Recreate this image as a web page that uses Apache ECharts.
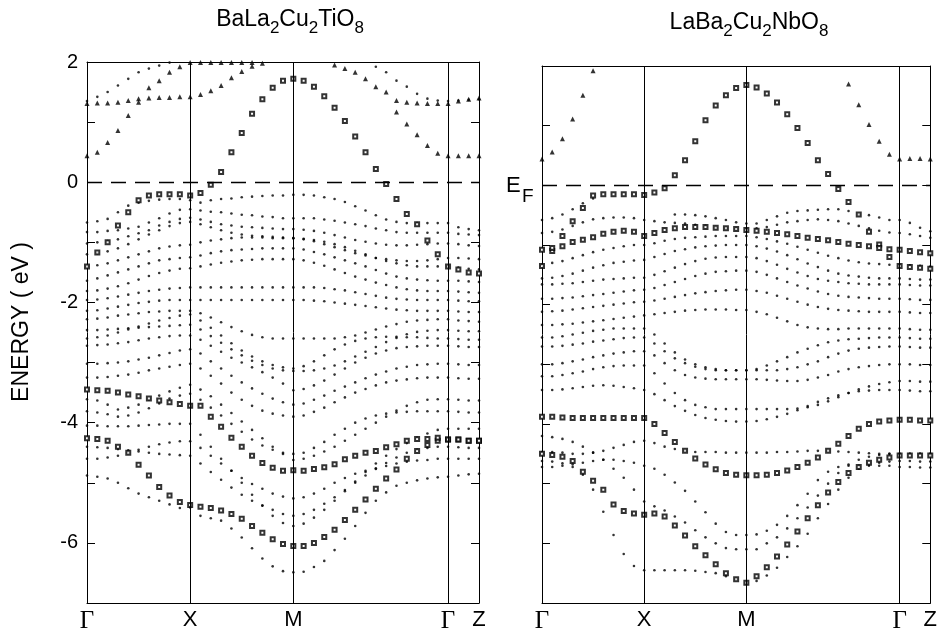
<!DOCTYPE html>
<html><head><meta charset="utf-8">
<script src="https://cdn.jsdelivr.net/npm/echarts@6/dist/echarts.min.js"></script>
<style>html,body{margin:0;padding:0;background:#fff}#c{width:940px;height:634px}</style>
</head><body><div id="c"></div>
<script>
// k-path: index 0..38 ; Γ=0, X=10, M=20, Γ=35, Z=38
const kPos = [0, 10, 20, 35, 38];
const kNames = ['Γ', 'X', 'M', 'Γ', 'Z'];
const yLabelTicks = [2, 0, -2, -4, -6];

// ---------- BaLa2Cu2TiO8 (left) ----------
const L_tri = [
  [0.44,0.5,0.66,0.86,1.11,1.33,1.57,1.69,1.83,1.92,1.99, 1.99,1.99,1.99,1.99,1.99,1.99,null,null,null,null, null,null,null,1.95,1.89,1.83,1.72,1.59,1.5,1.17,0.97,0.79,0.61,0.48,0.44, 0.44,0.44,0.44],
  [1.31,1.32,1.32,1.33,1.36,1.39,1.4,1.41,1.41,1.42,1.42, 1.46,1.52,1.61,1.74,1.84,1.93,1.98,null,null,null, null,null,null,null,null,null,null,null,null,1.36,1.33,1.32,1.31,1.31,1.31, 1.35,1.38,1.4]
];
const L_sq = [
  [-1.4,-1.17,-1.0,-0.72,-0.5,-0.3,-0.22,-0.2,-0.2,-0.2,-0.22, -0.18,-0.04,0.17,0.5,0.82,1.14,1.38,1.57,1.69,1.72, 1.69,1.59,1.43,1.24,1.02,0.76,0.5,0.22,-0.03,-0.28,-0.53,-0.7,-0.97,-1.2,-1.4, -1.45,-1.5,-1.52],
  [-4.26,-4.27,-4.3,-4.4,-4.5,-4.7,-4.88,-5.07,-5.21,-5.32,-5.37, -5.4,-5.42,-5.46,-5.52,-5.6,-5.72,-5.83,-5.94,-6.02,-6.05, -6.05,-6.0,-5.9,-5.78,-5.62,-5.45,-5.28,-5.1,-4.93,-4.78,-4.6,-4.47,-4.37,-4.3,-4.28, -4.28,-4.3,-4.3],
  [-3.45,-3.46,-3.47,-3.5,-3.53,-3.56,-3.6,-3.63,-3.66,-3.69,-3.72, -3.72,-3.9,-4.07,-4.25,-4.4,-4.55,-4.67,-4.75,-4.8,-4.79, -4.8,-4.77,-4.74,-4.69,-4.61,-4.55,-4.5,-4.47,-4.41,-4.36,-4.3,-4.27,-4.27,-4.25,-4.28, -4.28,-4.3,-4.3]
];
const L_dot = [
  [1.35,1.42,1.5,1.61,1.72,1.83,1.89,1.94,1.99,null,null, null,null,null,null,null,null,null,null,null,null, null,null,null,null,null,null,null,1.92,1.83,1.69,1.59,1.47,1.39,1.36,1.35, 1.36,1.37,1.38],
  [-0.67,-0.65,-0.61,-0.5,-0.39,-0.34,-0.31,-0.29,-0.28,-0.28,-0.3, -0.34,-0.3,-0.28,-0.27,-0.25,-0.24,-0.23,-0.22,-0.22,-0.21, -0.21,-0.22,-0.25,-0.28,-0.33,-0.4,-0.47,-0.55,-0.62,-0.66,-0.68,-0.68,-0.68,-0.68,-0.68, -0.75,-0.78,-0.8],
  [-0.83,-0.83,-0.81,-0.8,-0.77,-0.74,-0.67,-0.6,-0.52,-0.46,-0.45, -0.47,-0.49,-0.5,-0.52,-0.54,-0.55,-0.57,-0.58,-0.6,-0.6, -0.6,-0.6,-0.62,-0.64,-0.67,-0.7,-0.73,-0.77,-0.8,-0.83,-0.84,-0.84,-0.84,-0.84,-0.84, -0.86,-0.87,-0.88],
  [-1.02,-1.0,-0.98,-0.95,-0.9,-0.85,-0.8,-0.72,-0.66,-0.61,-0.59, -0.62,-0.66,-0.7,-0.72,-0.74,-0.75,-0.76,-0.77,-0.78,-0.78, -0.79,-0.81,-0.84,-0.88,-0.92,-0.96,-0.99,-1.02,-1.04,-1.05,-1.05,-1.04,-1.03,-1.02,-1.02, -1.03,-1.05,-1.06],
  [-1.2,-1.18,-1.15,-1.1,-1.03,-0.95,-0.87,-0.8,-0.73,-0.68,-0.66, -0.7,-0.75,-0.8,-0.84,-0.87,-0.89,-0.9,-0.91,-0.92,-0.93, -0.95,-0.98,-1.03,-1.08,-1.13,-1.18,-1.22,-1.26,-1.28,-1.3,-1.31,-1.31,-1.3,-1.28,-1.26, -1.26,-1.27,-1.28],
  [-1.4,-1.38,-1.35,-1.3,-1.25,-1.2,-1.15,-1.1,-1.07,-1.05,-1.04, -1.0,-0.97,-0.95,-0.93,-0.92,-0.92,-0.92,-0.93,-0.93,-0.93, -0.94,-0.96,-0.99,-1.03,-1.08,-1.14,-1.2,-1.26,-1.31,-1.35,-1.38,-1.4,-1.4,-1.4,-1.4, -1.42,-1.44,-1.45],
  [-1.64,-1.6,-1.55,-1.5,-1.45,-1.4,-1.35,-1.3,-1.28,-1.26,-1.25, -1.22,-1.18,-1.15,-1.13,-1.12,-1.11,-1.1,-1.1,-1.1,-1.1, -1.12,-1.16,-1.2,-1.25,-1.3,-1.35,-1.4,-1.46,-1.52,-1.57,-1.6,-1.62,-1.63,-1.64,-1.64, -1.64,-1.65,-1.66],
  [-1.81,-1.8,-1.77,-1.73,-1.68,-1.62,-1.56,-1.51,-1.47,-1.44,-1.43, -1.4,-1.37,-1.34,-1.32,-1.3,-1.29,-1.28,-1.28,-1.28,-1.28, -1.3,-1.34,-1.39,-1.45,-1.51,-1.57,-1.62,-1.67,-1.71,-1.75,-1.78,-1.8,-1.81,-1.81,-1.81, -1.82,-1.83,-1.84],
  [-1.96,-1.95,-1.93,-1.9,-1.87,-1.84,-1.81,-1.79,-1.77,-1.76,-1.75, -1.75,-1.75,-1.75,-1.75,-1.75,-1.75,-1.75,-1.75,-1.75,-1.75, -1.75,-1.75,-1.76,-1.78,-1.8,-1.83,-1.86,-1.89,-1.92,-1.94,-1.95,-1.96,-1.96,-1.96,-1.96, -1.97,-1.98,-1.98],
  [-2.14,-2.13,-2.1,-2.07,-2.04,-2.01,-1.99,-1.97,-1.96,-1.96,-1.96, -1.96,-1.96,-1.96,-1.96,-1.96,-1.96,-1.96,-1.96,-1.96,-1.96, -1.96,-1.97,-1.98,-2.0,-2.02,-2.04,-2.06,-2.08,-2.1,-2.12,-2.13,-2.14,-2.14,-2.14,-2.14, -2.15,-2.16,-2.16],
  [-2.28,-2.27,-2.25,-2.22,-2.2,-2.18,-2.16,-2.15,-2.14,-2.14,-2.14, -2.18,-2.25,-2.33,-2.41,-2.48,-2.54,-2.58,-2.6,-2.6,-2.6, -2.6,-2.6,-2.6,-2.6,-2.58,-2.55,-2.5,-2.45,-2.4,-2.36,-2.32,-2.3,-2.29,-2.28,-2.28, -2.3,-2.31,-2.32],
  [-2.46,-2.46,-2.45,-2.44,-2.43,-2.42,-2.41,-2.4,-2.39,-2.38,-2.37, -2.45,-2.56,-2.67,-2.78,-2.88,-2.97,-3.04,-3.1,-3.13,-3.14, -3.14,-3.13,-3.1,-3.05,-2.98,-2.9,-2.82,-2.74,-2.66,-2.59,-2.53,-2.49,-2.47,-2.46,-2.46, -2.47,-2.48,-2.48],
  [-2.6,-2.58,-2.55,-2.5,-2.45,-2.4,-2.35,-2.3,-2.26,-2.22,-2.2, -2.3,-2.42,-2.55,-2.68,-2.8,-2.9,-2.98,-3.04,-3.08,-3.1, -3.06,-2.98,-2.88,-2.78,-2.7,-2.64,-2.6,-2.58,-2.57,-2.57,-2.58,-2.58,-2.59,-2.6,-2.6, -2.61,-2.62,-2.62],
  [-2.72,-2.71,-2.7,-2.68,-2.66,-2.63,-2.6,-2.58,-2.56,-2.55,-2.55, -2.62,-2.72,-2.82,-2.92,-3.0,-3.08,-3.16,-3.25,-3.35,-3.46, -3.44,-3.38,-3.3,-3.2,-3.1,-3.0,-2.92,-2.85,-2.8,-2.76,-2.74,-2.73,-2.72,-2.72,-2.72, -2.73,-2.74,-2.74],
  [-3.02,-3.02,-3.01,-3.0,-2.98,-2.95,-2.92,-2.88,-2.84,-2.8,-2.78, -2.85,-2.98,-3.1,-3.22,-3.33,-3.43,-3.52,-3.6,-3.66,-3.7, -3.68,-3.62,-3.55,-3.47,-3.4,-3.33,-3.26,-3.2,-3.15,-3.1,-3.07,-3.04,-3.03,-3.02,-3.02, -3.03,-3.04,-3.04],
  [-3.25,-3.25,-3.24,-3.22,-3.2,-3.17,-3.13,-3.1,-3.07,-3.04,-3.02, -3.1,-3.22,-3.35,-3.5,-3.62,-3.72,-3.8,-3.85,-3.88,-3.9, -3.88,-3.82,-3.75,-3.66,-3.58,-3.5,-3.44,-3.38,-3.33,-3.3,-3.28,-3.26,-3.25,-3.25,-3.25, -3.26,-3.27,-3.27],
  [-3.61,-3.63,-3.7,-3.78,-3.75,-3.7,-3.62,-3.55,-3.48,-3.42,-3.37, -3.45,-3.56,-3.7,-3.84,-3.98,-4.12,-4.26,-4.4,-4.52,-4.62, -4.6,-4.55,-4.48,-4.4,-4.3,-4.2,-4.1,-4.0,-3.9,-3.8,-3.72,-3.66,-3.62,-3.61,-3.61, -3.62,-3.63,-3.63],
  [-3.81,-3.83,-3.86,-3.9,-3.88,-3.83,-3.76,-3.68,-3.6,-3.55,-3.52, -3.62,-3.75,-3.88,-4.02,-4.15,-4.28,-4.38,-4.45,-4.5,-4.52, -4.5,-4.42,-4.32,-4.2,-4.1,-4.0,-3.93,-3.88,-3.85,-3.83,-3.82,-3.81,-3.81,-3.81,-3.81, -3.82,-3.83,-3.83],
  [-4.05,-4.05,-4.06,-4.06,-4.06,-4.05,-4.04,-4.03,-4.02,-4.02,-4.02, -4.2,-4.4,-4.6,-4.8,-5.0,-5.2,-5.38,-5.55,-5.67,-5.72, -5.68,-5.58,-5.45,-5.3,-5.14,-4.98,-4.82,-4.68,-4.55,-4.44,-4.34,-4.25,-4.18,-4.12,-4.1, -4.1,-4.1,-4.1],
  [-4.4,-4.41,-4.42,-4.44,-4.46,-4.48,-4.5,-4.52,-4.53,-4.54,-4.55, -4.68,-4.82,-4.95,-5.08,-5.2,-5.3,-5.38,-5.45,-5.52,-5.55, -5.52,-5.45,-5.35,-5.24,-5.12,-5.0,-4.88,-4.77,-4.67,-4.58,-4.5,-4.45,-4.42,-4.4,-4.4, -4.41,-4.42,-4.42],
  [-4.6,-4.6,-4.58,-4.55,-4.5,-4.45,-4.4,-4.36,-4.33,-4.31,-4.31, -4.42,-4.55,-4.68,-4.8,-4.92,-5.02,-5.1,-5.18,-5.23,-5.26, -5.24,-5.18,-5.1,-5.0,-4.92,-4.85,-4.8,-4.76,-4.72,-4.68,-4.65,-4.63,-4.62,-4.6,-4.6, -4.6,-4.6,-4.6],
  [-4.88,-4.9,-4.93,-5.0,-5.09,-5.18,-5.24,-5.3,-5.36,-5.42,-5.41, -5.55,-5.59,-5.63,-5.76,-5.91,-6.09,-6.26,-6.39,-6.47,-6.49, -6.48,-6.4,-6.3,-6.12,-5.93,-5.72,-5.5,-5.3,-5.16,-5.05,-5.0,-4.96,-4.93,-4.91,-4.9, -4.88,-4.86,-4.85]
];

// ---------- LaBa2Cu2NbO8 (right) ----------
const R_tri = [
  [0.44,0.56,0.78,1.11,1.51,1.92,null,null,null,null,null, null,null,null,null,null,null,null,null,null,null, null,null,null,null,null,null,null,null,null,1.7,1.35,1.02,0.74,0.52,0.44, 0.45,0.45,0.44]
];
const R_sq = [
  [-1.35,-1.1,-0.85,-0.6,-0.38,-0.17,-0.15,-0.15,-0.15,-0.15,-0.16, -0.12,-0.05,0.17,0.42,0.74,1.09,1.34,1.51,1.63,1.68, 1.64,1.54,1.39,1.19,0.96,0.71,0.42,0.19,-0.06,-0.28,-0.49,-0.78,-0.99,-1.2,-1.35, -1.37,-1.38,-1.4],
  [-1.08,-1.05,-1.02,-0.95,-0.91,-0.87,-0.81,-0.78,-0.76,-0.78,-0.85, -0.8,-0.75,-0.72,-0.7,-0.7,-0.7,-0.71,-0.72,-0.73,-0.75, -0.76,-0.78,-0.8,-0.82,-0.85,-0.88,-0.9,-0.92,-0.95,-0.98,-1.0,-1.02,-1.05,-1.07,-1.08, -1.1,-1.12,-1.14],
  [-3.88,-3.88,-3.89,-3.9,-3.9,-3.9,-3.9,-3.9,-3.9,-3.9,-3.9, -4.0,-4.15,-4.3,-4.45,-4.58,-4.68,-4.76,-4.82,-4.85,-4.86, -4.86,-4.85,-4.82,-4.78,-4.72,-4.65,-4.56,-4.45,-4.33,-4.2,-4.08,-4.0,-3.96,-3.94,-3.93, -3.93,-3.94,-3.94],
  [-4.5,-4.52,-4.55,-4.62,-4.8,-4.95,-5.1,-5.35,-5.46,-5.5,-5.52, -5.5,-5.55,-5.7,-5.87,-6.05,-6.2,-6.35,-6.5,-6.6,-6.66, -6.55,-6.4,-6.22,-6.02,-5.8,-5.58,-5.36,-5.15,-4.97,-4.82,-4.72,-4.65,-4.6,-4.56,-4.53, -4.53,-4.53,-4.53]
];
const R_dot = [
  [-0.58,-0.55,-0.49,-0.4,-0.3,-0.22,null,null,null,null,null, null,null,-0.49,-0.49,-0.5,-0.52,-0.55,-0.58,-0.62,-0.64, -0.64,-0.58,-0.52,-0.46,-0.43,-0.42,-0.41,-0.4,-0.4,-0.43,-0.49,-0.5,-0.54,-0.58,-0.58, -0.63,-0.71,-0.77],
  [-0.8,-0.78,-0.74,-0.68,-0.62,-0.57,-0.55,-0.54,-0.54,-0.55,-0.58, -0.6,-0.62,-0.63,-0.64,-0.66,-0.68,-0.7,-0.72,-0.73,-0.73, -0.72,-0.7,-0.66,-0.62,-0.6,-0.58,-0.57,-0.58,-0.6,-0.64,-0.68,-0.72,-0.76,-0.79,-0.8, -0.82,-0.85,-0.88],
  [-1.33,-1.3,-1.27,-1.22,-1.17,-1.12,-1.08,-1.05,-1.02,-1.0,-1.0, -0.97,-0.93,-0.9,-0.88,-0.87,-0.86,-0.85,-0.85,-0.85,-0.85, -0.87,-0.9,-0.94,-0.98,-1.03,-1.08,-1.13,-1.18,-1.22,-1.26,-1.29,-1.31,-1.32,-1.33,-1.33, -1.34,-1.35,-1.36],
  [-1.56,-1.55,-1.52,-1.48,-1.43,-1.38,-1.34,-1.3,-1.28,-1.26,-1.25, -1.2,-1.15,-1.1,-1.07,-1.04,-1.02,-1.01,-1.0,-1.0,-1.0, -1.02,-1.06,-1.11,-1.17,-1.24,-1.31,-1.37,-1.43,-1.48,-1.51,-1.53,-1.55,-1.56,-1.56,-1.56, -1.57,-1.58,-1.58],
  [-1.66,-1.66,-1.65,-1.64,-1.62,-1.6,-1.58,-1.57,-1.56,-1.55,-1.55, -1.5,-1.44,-1.38,-1.32,-1.27,-1.23,-1.21,-1.2,-1.2,-1.2, -1.22,-1.27,-1.33,-1.4,-1.46,-1.52,-1.57,-1.6,-1.62,-1.64,-1.65,-1.66,-1.66,-1.66,-1.66, -1.67,-1.68,-1.68],
  [-1.9,-1.9,-1.89,-1.88,-1.86,-1.84,-1.82,-1.8,-1.78,-1.76,-1.75, -1.72,-1.67,-1.62,-1.57,-1.52,-1.48,-1.45,-1.44,-1.43,-1.43, -1.45,-1.5,-1.56,-1.62,-1.68,-1.73,-1.78,-1.82,-1.85,-1.87,-1.88,-1.89,-1.9,-1.9,-1.9, -1.91,-1.92,-1.92],
  [-2.12,-2.11,-2.1,-2.08,-2.06,-2.04,-2.02,-2.0,-1.98,-1.96,-1.95, -1.93,-1.9,-1.87,-1.84,-1.81,-1.79,-1.77,-1.76,-1.75,-1.75, -1.77,-1.8,-1.85,-1.9,-1.95,-2.0,-2.04,-2.07,-2.09,-2.1,-2.11,-2.12,-2.12,-2.12,-2.12, -2.13,-2.14,-2.14],
  [-2.34,-2.34,-2.33,-2.32,-2.3,-2.28,-2.26,-2.24,-2.22,-2.2,-2.18, -2.16,-2.14,-2.12,-2.1,-2.09,-2.08,-2.08,-2.08,-2.09,-2.09, -2.12,-2.16,-2.22,-2.28,-2.34,-2.38,-2.4,-2.41,-2.41,-2.4,-2.4,-2.4,-2.4,-2.4,-2.4, -2.41,-2.42,-2.42],
  [-2.55,-2.55,-2.53,-2.5,-2.47,-2.44,-2.42,-2.4,-2.4,-2.4,-2.4, -2.5,-2.65,-2.8,-2.92,-3.0,-3.05,-3.08,-3.1,-3.1,-3.1, -3.08,-3.02,-2.95,-2.88,-2.8,-2.74,-2.68,-2.63,-2.6,-2.58,-2.57,-2.56,-2.55,-2.55,-2.55, -2.56,-2.57,-2.57],
  [-2.7,-2.7,-2.69,-2.67,-2.65,-2.62,-2.6,-2.58,-2.56,-2.55,-2.55, -2.65,-2.78,-2.9,-2.98,-3.04,-3.08,-3.1,-3.1,-3.1,-3.1, -3.1,-3.1,-3.1,-3.08,-3.05,-3.0,-2.95,-2.88,-2.82,-2.77,-2.74,-2.72,-2.71,-2.7,-2.7, -2.71,-2.72,-2.72],
  [-3.0,-3.0,-2.98,-2.95,-2.92,-2.88,-2.85,-2.82,-2.8,-2.78,-2.78, -2.85,-2.98,-3.1,-3.18,-3.22,-3.24,-3.25,-3.25,-3.25,-3.25, -3.25,-3.26,-3.27,-3.28,-3.28,-3.26,-3.22,-3.18,-3.12,-3.08,-3.05,-3.03,-3.01,-3.0,-3.0, -3.0,-3.01,-3.01],
  [-3.2,-3.2,-3.18,-3.15,-3.12,-3.08,-3.05,-3.03,-3.02,-3.02,-3.02, -3.15,-3.32,-3.48,-3.6,-3.68,-3.72,-3.75,-3.75,-3.75,-3.75, -3.75,-3.75,-3.75,-3.75,-3.74,-3.72,-3.68,-3.62,-3.55,-3.48,-3.42,-3.37,-3.33,-3.3,-3.28, -3.28,-3.29,-3.29],
  [-3.43,-3.43,-3.42,-3.4,-3.38,-3.36,-3.35,-3.36,-3.38,-3.4,-3.43, -3.5,-3.6,-3.7,-3.78,-3.85,-3.9,-3.93,-3.95,-3.96,-3.96, -3.95,-3.92,-3.88,-3.83,-3.77,-3.7,-3.63,-3.57,-3.52,-3.48,-3.45,-3.44,-3.43,-3.43,-3.43, -3.44,-3.45,-3.45],
  [-4.47,-4.47,-4.48,-4.5,-4.5,-4.48,-4.45,-4.4,-4.35,-4.3,-4.28, -4.32,-4.38,-4.42,-4.45,-4.47,-4.47,-4.47,-4.48,-4.48,-4.48, -4.48,-4.48,-4.47,-4.47,-4.46,-4.45,-4.45,-4.45,-4.46,-4.47,-4.48,-4.49,-4.5,-4.5,-4.5, -4.5,-4.5,-4.5],
  [-4.62,-4.63,-4.66,-4.72,-4.85,-5.1,-5.47,-5.86,-6.18,-6.38,-6.45, -6.45,-6.45,-6.45,-6.45,-6.46,-6.48,-6.5,-6.55,-6.6,-6.66, -6.63,-6.54,-6.41,-6.23,-6.05,-5.84,-5.58,-5.34,-5.1,-4.9,-4.75,-4.68,-4.65,-4.63,-4.62, -4.62,-4.63,-4.63],
  [-4.2,-4.22,-4.25,-4.3,-4.38,-4.48,-4.6,-4.75,-4.9,-5.1,-5.3, -5.38,-5.45,-5.55,-5.65,-5.78,-5.9,-6.0,-6.08,-6.1,-6.1, -6.1,-6.0,-5.9,-5.75,-5.58,-5.4,-5.2,-5.0,-4.82,-4.68,-4.6,-4.55,-4.52,-4.5,-4.5, -4.5,-4.5,-4.5],
  [-4.72,-4.72,-4.7,-4.68,-4.65,-4.62,-4.6,-4.6,-4.62,-4.65,-4.7, -4.75,-4.85,-4.98,-5.12,-5.3,-5.48,-5.67,-5.81,-5.86,-5.86, -5.85,-5.79,-5.69,-5.54,-5.36,-5.17,-4.94,-4.8,-4.72,-4.7,-4.7,-4.7,-4.7,-4.7,-4.72, -4.72,-4.73,-4.73]
];

function toPts(bands) {
  const out = [];
  bands.forEach(b => b.forEach((e, k) => { if (e !== null) out.push([k, e]); }));
  return out;
}

const grids = [
  { left: 87, top: 62, width: 392, height: 542 },
  { left: 542, top: 66, width: 391, height: 542 }
];
const lineC = '#000';
function xAxes(i) {
  return [
    { gridIndex: i, type: 'value', min: 0, max: 38, position: 'bottom',
      axisLine: { show: true, onZero: false, lineStyle: { color: lineC, width: 1 } },
      axisTick: { show: false }, splitLine: { show: false },
      axisLabel: { customValues: kPos, margin: 6,
        formatter: v => { const n = kNames[kPos.indexOf(v)]; return n === 'Γ' ? '{g|Γ}' : '{s|' + n + '}'; },
        rich: { g: { fontFamily: 'Liberation Serif', fontSize: 25, color: '#000' },
                s: { fontFamily: 'Liberation Sans', fontSize: 22, color: '#000' } } } },
    { gridIndex: i, type: 'value', min: 0, max: 38, position: 'top',
      axisLine: { show: true, onZero: false, lineStyle: { color: lineC, width: 1 } },
      axisTick: { show: false }, axisLabel: { show: false }, splitLine: { show: false } }
  ];
}
function yAxes(i, labels) {
  return [
    { gridIndex: i, type: 'value', min: -7, max: 2, interval: 1, position: 'left',
      axisLine: { show: true, onZero: false, lineStyle: { color: lineC, width: 1 } },
      axisTick: { show: true, inside: true, length: 8, lineStyle: { color: lineC } },
      splitLine: { show: false },
      axisLabel: { show: labels, formatter: v => yLabelTicks.includes(v) ? String(v) : '',
        fontFamily: 'Liberation Sans', fontSize: 20, color: '#000', margin: 9 } },
    { gridIndex: i, type: 'value', min: -7, max: 2, interval: 1, position: 'right',
      axisLine: { show: true, onZero: false, lineStyle: { color: lineC, width: 1 } },
      axisTick: { show: true, inside: true, length: 8, lineStyle: { color: lineC } },
      axisLabel: { show: false }, splitLine: { show: false } }
  ];
}
function panelSeries(i, dots, sqs, tris) {
  const ax = { xAxisIndex: 2 * i, yAxisIndex: 2 * i };
  return [
    Object.assign({ type: 'scatter', symbol: 'circle', symbolSize: 2.6, silent: true,
      itemStyle: { color: '#000' }, data: toPts(dots),
      markLine: { silent: true, symbol: ['none', 'none'], label: { show: false }, animation: false,
        data: [
          { xAxis: 10, lineStyle: { color: '#000', width: 1, type: 'solid' } },
          { xAxis: 20, lineStyle: { color: '#000', width: 1, type: 'solid' } },
          { xAxis: 35, lineStyle: { color: '#000', width: 1, type: 'solid' } },
          { yAxis: 0, lineStyle: { color: '#000', width: 1.4, type: [15, 9] } }
        ] } }, ax),
    Object.assign({ type: 'scatter', symbol: 'emptyRect', symbolSize: 4, silent: true,
      itemStyle: { color: '#000', borderColor: '#000', borderWidth: 0.7 }, data: toPts(sqs) }, ax),
    Object.assign({ type: 'scatter', symbol: 'triangle', symbolSize: 5, silent: true,
      itemStyle: { color: '#000' }, data: toPts(tris) }, ax)
  ];
}

const chart = echarts.init(document.getElementById('c'), null, { renderer: 'canvas' });
const subRich = {
  n: { fontFamily: 'Liberation Sans', fontSize: 23, lineHeight: 34, color: '#000' },
  s: { fontFamily: 'Liberation Sans', fontSize: 17, lineHeight: 17, verticalAlign: 'bottom', color: '#000' }
};
chart.setOption({
  animation: false,
  backgroundColor: '#fff',
  grid: grids,
  xAxis: [...xAxes(0), ...xAxes(1)],
  yAxis: [...yAxes(0, true), ...yAxes(1, false)],
  series: [...panelSeries(0, L_dot, L_sq, L_tri), ...panelSeries(1, R_dot, R_sq, R_tri)],
  graphic: [
    { type: 'text', x: 290, y: 3, style: { text: '{n|BaLa}{s|2}{n|Cu}{s|2}{n|TiO}{s|8}', rich: subRich, align: 'center', verticalAlign: 'top' } },
    { type: 'text', x: 749, y: 6, style: { text: '{n|LaBa}{s|2}{n|Cu}{s|2}{n|NbO}{s|8}', rich: subRich, align: 'center', verticalAlign: 'top' } },
    { type: 'text', x: 22, y: 322, rotation: Math.PI / 2, style: { text: 'ENERGY ( eV )', font: '23px "Liberation Sans"', fill: '#000', align: 'center', verticalAlign: 'middle' } },
    { type: 'text', x: 506, y: 175, style: { text: 'E', font: '22px "Liberation Sans"', fill: '#000', align: 'left', verticalAlign: 'top' } },
    { type: 'text', x: 522, y: 187, style: { text: 'F', font: '19px "Liberation Sans"', fill: '#000', align: 'left', verticalAlign: 'top' } }
  ]
});
</script></body></html>
